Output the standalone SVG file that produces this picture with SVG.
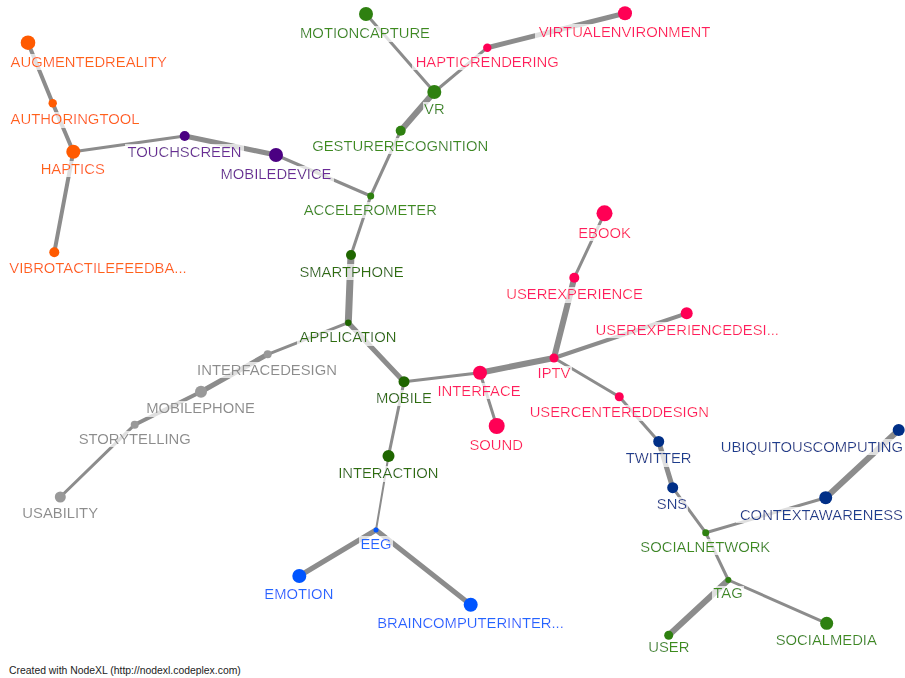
<svg xmlns="http://www.w3.org/2000/svg" width="905" height="678" viewBox="0 0 905 678">
  <defs>
    <!-- translucent white box behind each label -->
    <filter id="labelbg" x="-0.02" y="0.05" width="1.04" height="0.95">
      <feFlood flood-color="#ffffff" flood-opacity="0.72" result="bg"/>
      <feMerge>
        <feMergeNode in="bg"/>
        <feMergeNode in="SourceGraphic"/>
      </feMerge>
    </filter>
  </defs>
  <style>
    text { font-family: "Liberation Sans", Arial, sans-serif; font-size: 14.8px; text-anchor: middle; filter: url(#labelbg); }
    .edges line { stroke: #8c8c8c; stroke-linecap: round; }
    .orange circle { fill: #ff5a00; } .orange text { fill: #ff6418; }
    .purple circle { fill: #4b0082; } .purple text { fill: #6a2a96; }
    .green circle { fill: #2e8010; } .green text { fill: #3d8c1f; }
    .dgreen circle { fill: #1f6600; } .dgreen text { fill: #2f6e10; }
    .pink circle { fill: #ff0055; } .pink text { fill: #ff1a5f; }
    .blue circle { fill: #0055ff; } .blue text { fill: #2466ff; }
    .navy circle { fill: #002f87; } .navy text { fill: #1e3c8e; }
    .gray circle { fill: #999999; } .gray text { fill: #8c8c8c; }
    .footer { font-size: 10.4px; fill: #222222; text-anchor: start; filter: none; }
  </style>
  <rect width="905" height="678" fill="#ffffff"/>

  <g id="edges" class="edges">
    <line x1="28" y1="42.7" x2="52.7" y2="103.3" stroke-width="4"/>
    <line x1="52.7" y1="103.3" x2="73.3" y2="151.7" stroke-width="4"/>
    <line x1="73.3" y1="151.7" x2="54.3" y2="252.3" stroke-width="4"/>
    <line x1="73.3" y1="151.7" x2="184.7" y2="136" stroke-width="3"/>
    <line x1="184.7" y1="136" x2="276" y2="155" stroke-width="5"/>
    <line x1="276" y1="155" x2="370.7" y2="196" stroke-width="3"/>
    <line x1="366" y1="14" x2="434.3" y2="92" stroke-width="3"/>
    <line x1="434.3" y1="92" x2="487.3" y2="47.7" stroke-width="3"/>
    <line x1="487.3" y1="47.7" x2="625" y2="13.3" stroke-width="5"/>
    <line x1="434.3" y1="92" x2="400.7" y2="130.7" stroke-width="6"/>
    <line x1="400.7" y1="130.7" x2="370.7" y2="196" stroke-width="3"/>
    <line x1="370.7" y1="196" x2="351" y2="255" stroke-width="3"/>
    <line x1="351" y1="255" x2="348.3" y2="322.7" stroke-width="7"/>
    <line x1="348.3" y1="322.7" x2="267.7" y2="354.3" stroke-width="3"/>
    <line x1="267.7" y1="354.3" x2="201" y2="391.7" stroke-width="5"/>
    <line x1="201" y1="391.7" x2="134.7" y2="424.7" stroke-width="4"/>
    <line x1="134.7" y1="424.7" x2="60.3" y2="497" stroke-width="3"/>
    <line x1="348.3" y1="322.7" x2="404" y2="381.7" stroke-width="5"/>
    <line x1="404" y1="381.7" x2="388.5" y2="456" stroke-width="3"/>
    <line x1="404" y1="381.7" x2="480" y2="372.7" stroke-width="3"/>
    <line x1="480" y1="372.7" x2="496.7" y2="426" stroke-width="3"/>
    <line x1="480" y1="372.7" x2="554" y2="358" stroke-width="6"/>
    <line x1="554" y1="358" x2="574.3" y2="277.7" stroke-width="6"/>
    <line x1="574.3" y1="277.7" x2="604.5" y2="213.3" stroke-width="3"/>
    <line x1="554" y1="358" x2="686.7" y2="313.3" stroke-width="4"/>
    <line x1="554" y1="358" x2="619.3" y2="396.7" stroke-width="3"/>
    <line x1="619.3" y1="396.7" x2="658.7" y2="441.5" stroke-width="3"/>
    <line x1="658.7" y1="441.5" x2="672.7" y2="487.7" stroke-width="5"/>
    <line x1="672.7" y1="487.7" x2="705.7" y2="532.7" stroke-width="3"/>
    <line x1="705.7" y1="532.7" x2="825.7" y2="497.7" stroke-width="3"/>
    <line x1="825.7" y1="497.7" x2="898.7" y2="430" stroke-width="6"/>
    <line x1="705.7" y1="532.7" x2="728.3" y2="580" stroke-width="3"/>
    <line x1="728.3" y1="580" x2="668.7" y2="635.3" stroke-width="6"/>
    <line x1="728.3" y1="580" x2="826.7" y2="623.3" stroke-width="3"/>
    <line x1="388.5" y1="456" x2="376" y2="530" stroke-width="2"/>
    <line x1="376" y1="530" x2="299.3" y2="576" stroke-width="5"/>
    <line x1="376" y1="530" x2="470.7" y2="604.7" stroke-width="5"/>
  </g>

  <!-- orange cluster -->
  <g id="augmentedreality" class="orange"><circle cx="28" cy="42.7" r="7.3"/><text x="88.7" y="66.7">AUGMENTEDREALITY</text></g>
  <g id="authoringtool" class="orange"><circle cx="52.7" cy="103.3" r="4.2"/><text x="75" y="124.3">AUTHORINGTOOL</text></g>
  <g id="haptics" class="orange"><circle cx="73.3" cy="151.7" r="7"/><text x="72.7" y="174">HAPTICS</text></g>
  <g id="vibrotactilefeedback" class="orange"><circle cx="54.3" cy="252.3" r="5"/><text x="98" y="273.3">VIBROTACTILEFEEDBA...</text></g>

  <!-- purple cluster -->
  <g id="touchscreen" class="purple"><circle cx="184.7" cy="136" r="5"/><text x="184.5" y="156.7">TOUCHSCREEN</text></g>
  <g id="mobiledevice" class="purple"><circle cx="276" cy="155" r="7"/><text x="276" y="179">MOBILEDEVICE</text></g>

  <!-- green cluster (upper) -->
  <g id="motioncapture" class="green"><circle cx="366" cy="14" r="7"/><text x="365" y="38.3">MOTIONCAPTURE</text></g>
  <g id="vr" class="green"><circle cx="434.3" cy="92" r="7"/><text x="434.3" y="114.3">VR</text></g>
  <g id="gesturerecognition" class="green"><circle cx="400.7" cy="130.7" r="5"/><text x="400.2" y="151">GESTURERECOGNITION</text></g>
  <g id="accelerometer" class="green"><circle cx="370.7" cy="196" r="3.5"/><text x="370.3" y="215">ACCELEROMETER</text></g>

  <!-- pink cluster -->
  <g id="hapticrendering" class="pink"><circle cx="487.3" cy="47.7" r="4.2"/><text x="487.2" y="66.7">HAPTICRENDERING</text></g>
  <g id="virtualenvironment" class="pink"><circle cx="625" cy="13.3" r="7"/><text x="624.5" y="36.7">VIRTUALENVIRONMENT</text></g>
  <g id="ebook" class="pink"><circle cx="604.5" cy="213.3" r="8"/><text x="604.5" y="237.7">EBOOK</text></g>
  <g id="userexperience" class="pink"><circle cx="574.3" cy="277.7" r="5"/><text x="574.5" y="299.3">USEREXPERIENCE</text></g>
  <g id="userexperiencedesign" class="pink"><circle cx="686.7" cy="313.3" r="6"/><text x="687.3" y="335">USEREXPERIENCEDESI...</text></g>
  <g id="iptv" class="pink"><circle cx="554" cy="358" r="4.5"/><text x="554" y="378.3">IPTV</text></g>
  <g id="interface" class="pink"><circle cx="480" cy="372.7" r="7"/><text x="479" y="396">INTERFACE</text></g>
  <g id="sound" class="pink"><circle cx="496.7" cy="426" r="8"/><text x="496.2" y="450">SOUND</text></g>
  <g id="usercentereddesign" class="pink"><circle cx="619.3" cy="396.7" r="4.5"/><text x="619.3" y="417.3">USERCENTEREDDESIGN</text></g>

  <!-- dark green cluster -->
  <g id="smartphone" class="dgreen"><circle cx="351" cy="255" r="5"/><text x="351.5" y="277">SMARTPHONE</text></g>
  <g id="application" class="dgreen"><circle cx="348.3" cy="322.7" r="3.2"/><text x="348" y="342.3">APPLICATION</text></g>
  <g id="mobile" class="dgreen"><circle cx="404" cy="381.7" r="5.5"/><text x="404" y="403">MOBILE</text></g>
  <g id="interaction" class="dgreen"><circle cx="388.5" cy="456" r="6"/><text x="388.3" y="478.3">INTERACTION</text></g>

  <!-- gray cluster -->
  <g id="interfacedesign" class="gray"><circle cx="267.7" cy="354.3" r="4"/><text x="267" y="375">INTERFACEDESIGN</text></g>
  <g id="mobilephone" class="gray"><circle cx="201" cy="391.7" r="6"/><text x="200.5" y="413.3">MOBILEPHONE</text></g>
  <g id="storytelling" class="gray"><circle cx="134.7" cy="424.7" r="4"/><text x="134.7" y="444">STORYTELLING</text></g>
  <g id="usability" class="gray"><circle cx="60.3" cy="497" r="5.5"/><text x="60.2" y="518.3">USABILITY</text></g>

  <!-- blue cluster -->
  <g id="eeg" class="blue"><circle cx="376" cy="530" r="2.5"/><text x="376" y="549">EEG</text></g>
  <g id="emotion" class="blue"><circle cx="299.3" cy="576" r="7"/><text x="298.8" y="599">EMOTION</text></g>
  <g id="braincomputerinterface" class="blue"><circle cx="470.7" cy="604.7" r="7"/><text x="470.5" y="627.7">BRAINCOMPUTERINTER...</text></g>

  <!-- navy cluster -->
  <g id="twitter" class="navy"><circle cx="658.7" cy="441.5" r="5.5"/><text x="658.7" y="463.3">TWITTER</text></g>
  <g id="sns" class="navy"><circle cx="672.7" cy="487.7" r="5.5"/><text x="672" y="509.3">SNS</text></g>
  <g id="ubiquitouscomputing" class="navy"><circle cx="898.7" cy="430" r="6"/><text x="903" y="451.7" style="text-anchor:end">UBIQUITOUSCOMPUTING</text></g>
  <g id="contextawareness" class="navy"><circle cx="825.7" cy="497.7" r="6.5"/><text x="903" y="520" style="text-anchor:end">CONTEXTAWARENESS</text></g>

  <!-- green cluster (lower) -->
  <g id="socialnetwork" class="green"><circle cx="705.7" cy="532.7" r="3.5"/><text x="705.3" y="551.7">SOCIALNETWORK</text></g>
  <g id="tag" class="green"><circle cx="728.3" cy="580" r="3"/><text x="728" y="598.3">TAG</text></g>
  <g id="user" class="green"><circle cx="668.7" cy="635.3" r="4.5"/><text x="668.8" y="652.3">USER</text></g>
  <g id="socialmedia" class="green"><circle cx="826.7" cy="623.3" r="6.5"/><text x="826.3" y="645">SOCIALMEDIA</text></g>

  <text class="footer" x="9" y="674">Created with NodeXL (http://nodexl.codeplex.com)</text>
</svg>
